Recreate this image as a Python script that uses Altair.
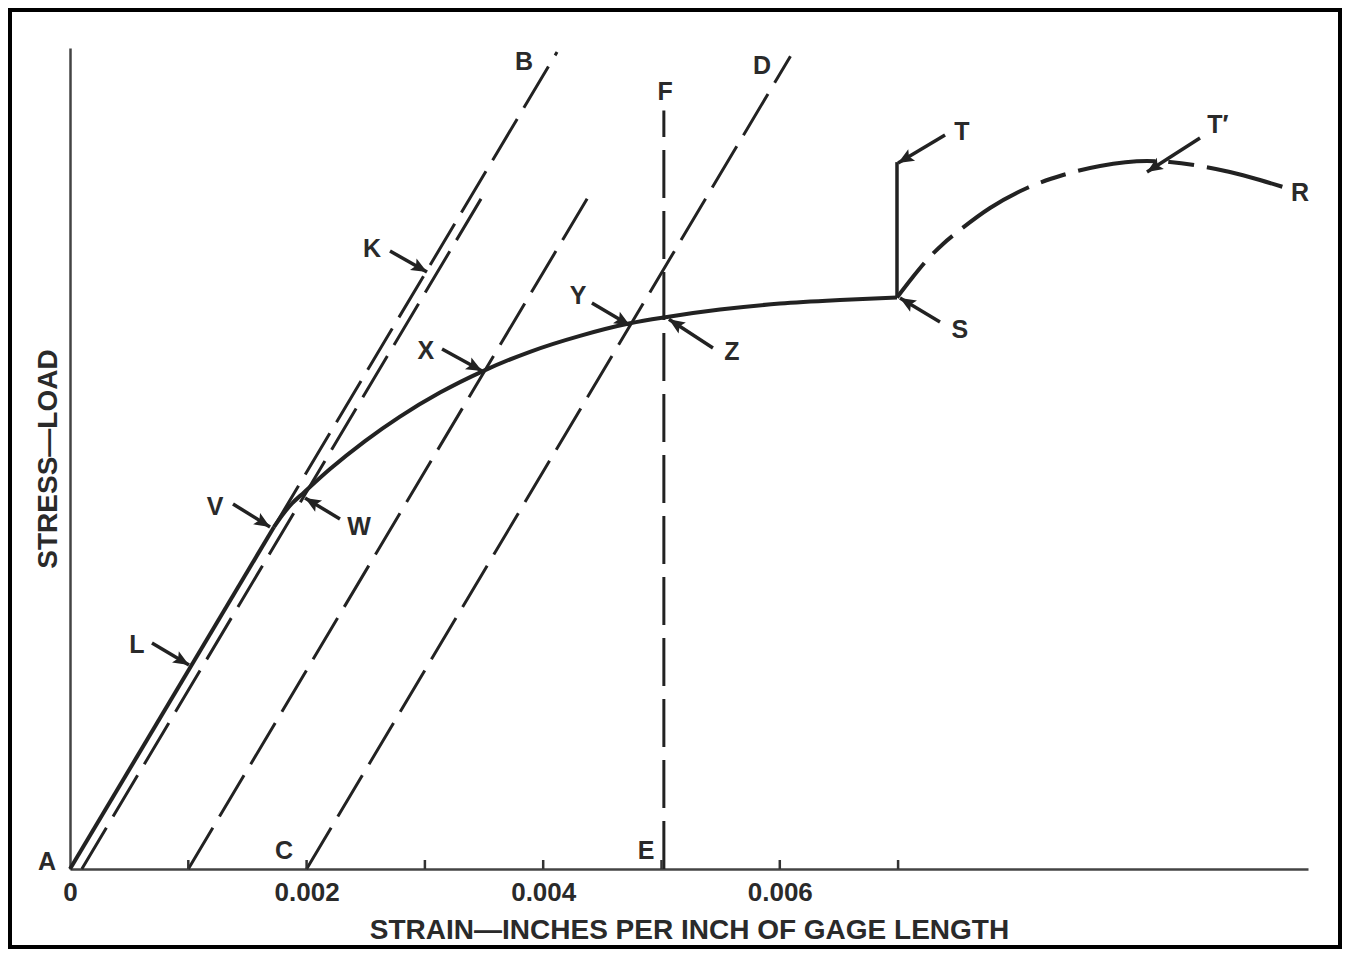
import math
import altair as alt
import pandas as pd

W, H = 1238, 821
XMAX = 0.010465
YMAX = 100.0
FONT = "Liberation Sans"
INK = "#222222"

# ---- elastic part A -> V (solid, straight) ----
elastic_strain = [0.0, 0.0017244]
elastic_stress = [0.0, 41.66]

# ---- plastic curve V -> S (solid) ----
curve_strain = [0.0017244, 0.0017921, 0.0018766, 0.0019780, 0.0021978, 0.0024937, 0.0027895,
                0.0031277, 0.0034911, 0.0038884, 0.0043111, 0.0047337, 0.0050465, 0.0054945,
                0.0060017, 0.0065089, 0.0069907]
curve_stress = [41.66, 43.06, 44.52, 45.86, 48.71, 52.12, 55.10, 58.03, 60.65, 63.00, 64.94,
                66.47, 67.24, 68.14, 68.87, 69.31, 69.61]

# ---- S -> T' -> R (dash-dot) ----
upper_strain = [0.0069907, 0.007118, 0.007244, 0.007380, 0.007523, 0.007777, 0.008090,
                0.008394, 0.008707, 0.009104, 0.009298, 0.009552, 0.009805, 0.010059, 0.010254]
upper_stress = [69.61, 71.99, 74.18, 76.13, 77.83, 80.51, 82.95, 84.53, 85.63, 86.24,
                86.11, 85.63, 84.90, 83.92, 83.07]

# ---- S -> T vertical (solid) ----
st_strain = [0.0069907, 0.0069907]
st_stress = [69.61, 86.1]

# ---- dashed construction lines (start, end) ----
dash_ids = ["VB", "offset0001", "offset001", "CD", "EF"]
dash_x0 = [0.0017244, 0.0001, 0.001, 0.002, 0.00502]
dash_y0 = [41.66, 0.0, 0.0, 0.0, 0.0]
dash_x1 = [0.004117, 0.00349, 0.00439, 0.00609, 0.00502]
dash_y1 = [99.5, 82.0, 82.1, 99.0, 92.4]

# ---- inner ticks on strain axis ----
tick_strain = [0.001, 0.002, 0.003, 0.004, 0.005, 0.006, 0.007]
tick_len = 1.1

# ---- letter labels ----
lab_text = ["A", "B", "C", "D", "E", "F", "K", "L", "V", "W", "X", "Y", "Z", "S", "T", "T\u2032", "R"]
lab_x = [-0.000195, 0.003838, 0.001809, 0.005849, 0.004869, 0.005030, 0.002553, 0.000566,
         0.001226, 0.002443, 0.003009, 0.004294, 0.005596, 0.007523, 0.007540, 0.009704, 0.010397]
lab_y = [0.85, 98.3, 2.19, 97.8, 2.19, 94.6, 75.5, 27.3, 44.1, 41.7, 63.1, 69.8, 63.0, 65.7,
         89.8, 90.6, 82.3]

# ---- pointer arrows (tail -> tip) ----
arr_name = ["K", "T", "T'", "S", "Z", "Y", "X", "V", "W", "L"]
arr_x0 = [0.002705, 0.007397, 0.009552, 0.007354, 0.005435, 0.004412, 0.003145, 0.001378, 0.002282, 0.000693]
arr_y0 = [75.27, 89.40, 89.04, 66.62, 63.46, 68.94, 63.34, 44.46, 42.63, 27.53]
arr_x1 = [0.003018, 0.007000, 0.009104, 0.007016, 0.005063, 0.004734, 0.003483, 0.001691, 0.001987, 0.001006]
arr_y1 = [72.72, 85.99, 84.90, 69.55, 66.95, 66.20, 60.66, 41.66, 45.20, 24.85]

# ---------------------------------------------------------------
xs = alt.Scale(domain=[0, XMAX], nice=False, zero=False)
ys = alt.Scale(domain=[0, YMAX], nice=False, zero=False)


def series(xv, yv):
    return pd.DataFrame({"strain": xv, "stress": yv, "o": range(len(xv))})


rows = []
for i, n in enumerate(dash_ids):
    rows.append({"id": n, "o": 0, "strain": dash_x0[i], "stress": dash_y0[i]})
    rows.append({"id": n, "o": 1, "strain": dash_x1[i], "stress": dash_y1[i]})
dash_df = pd.DataFrame(rows)

tick_df = pd.DataFrame({"strain": tick_strain, "s0": [0.0] * len(tick_strain),
                        "s1": [tick_len] * len(tick_strain)})
lab_df = pd.DataFrame({"t": lab_text, "strain": lab_x, "stress": lab_y})

pxk = W / XMAX
pxs = H / YMAX
angles = [math.degrees(math.atan2(-(arr_y1[i] - arr_y0[i]) * pxs,
                                  (arr_x1[i] - arr_x0[i]) * pxk)) % 360
          for i in range(len(arr_name))]
arr_df = pd.DataFrame({"n": arr_name, "x0": arr_x0, "y0": arr_y0, "x1": arr_x1,
                       "y1": arr_y1, "ang": angles})

X = alt.X("strain:Q", scale=xs,
          axis=alt.Axis(title="STRAIN\u2014INCHES PER INCH OF GAGE LENGTH",
                        values=[0, 0.002, 0.004, 0.006],
                        labelExpr="datum.value == 0 ? '0' : format(datum.value, '.3f')",
                        ticks=False, tickSize=0, grid=False, labelPadding=10,
                        titlePadding=11, labelFlush=False))
Y = alt.Y("stress:Q", scale=ys,
          axis=alt.Axis(title="STRESS\u2014LOAD", labels=False, ticks=False, tickSize=0,
                        grid=False, titlePadding=14, titleBaseline="alphabetic"))
XP = alt.X("strain:Q", scale=xs)
YP = alt.Y("stress:Q", scale=ys)

elastic = alt.Chart(series(elastic_strain, elastic_stress)).mark_line(
    color=INK, strokeWidth=4).encode(x=X, y=Y, order="o:Q")

main = alt.Chart(series(curve_strain, curve_stress)).mark_line(
    color=INK, strokeWidth=4, interpolate="monotone").encode(x=XP, y=YP, order="o:Q")

upper = alt.Chart(series(upper_strain, upper_stress)).mark_line(
    color=INK, strokeWidth=4, interpolate="monotone",
    strokeDash=[78, 13, 26, 13], strokeDashOffset=34).encode(x=XP, y=YP, order="o:Q")

st = alt.Chart(series(st_strain, st_stress)).mark_line(color=INK, strokeWidth=3.5).encode(
    x=XP, y=YP, order="o:Q")

dashes = alt.Chart(dash_df).mark_line(color=INK, strokeWidth=3, strokeDash=[48, 13]).encode(
    x=XP, y=YP, detail="id:N", order="o:Q")

ticks = alt.Chart(tick_df).mark_rule(color="#333333", strokeWidth=2.5).encode(
    x=XP, y=alt.Y("s0:Q", scale=ys), y2="s1:Q")

shafts = alt.Chart(arr_df).mark_rule(color=INK, strokeWidth=3.5).encode(
    x=alt.X("x0:Q", scale=xs), y=alt.Y("y0:Q", scale=ys), x2="x1:Q", y2="y1:Q")

heads = alt.Chart(arr_df).mark_point(
    shape="M 0 0 L -1 -0.42 L -0.8 0 L -1 0.42 Z", size=1000, filled=True,
    color=INK, opacity=1, strokeWidth=0).encode(
    x=alt.X("x1:Q", scale=xs), y=alt.Y("y1:Q", scale=ys),
    angle=alt.Angle("ang:Q", scale=None))

labels = alt.Chart(lab_df).mark_text(font=FONT, fontSize=25, fontWeight="bold",
                                     color="#2a2a2a", align="center", baseline="middle").encode(
    x=XP, y=YP, text="t:N")

frame = alt.Chart(pd.DataFrame({"f": [1]})).mark_rect(
    filled=False, stroke="black", strokeWidth=4).encode(
    x=alt.value(-60), x2=alt.value(W + 32), y=alt.value(-38), y2=alt.value(H + 78))

chart = alt.layer(elastic, dashes, ticks, main, upper, st, shafts, heads, labels, frame).properties(
    width=W, height=H,
    autosize=alt.AutoSizeParams(type="none"),
    padding={"left": 62, "top": 40, "right": 34, "bottom": 80},
    background="white",
).configure_view(strokeWidth=0).configure_axis(
    domainColor="#444444", domainWidth=2.5,
    labelFont=FONT, labelFontSize=26, labelFontWeight="bold", labelColor="#2a2a2a",
    titleFont=FONT, titleFontSize=28, titleFontWeight="bold", titleColor="#2a2a2a",
)

chart.save("out.html", embed_options={"renderer": "svg", "actions": False})
